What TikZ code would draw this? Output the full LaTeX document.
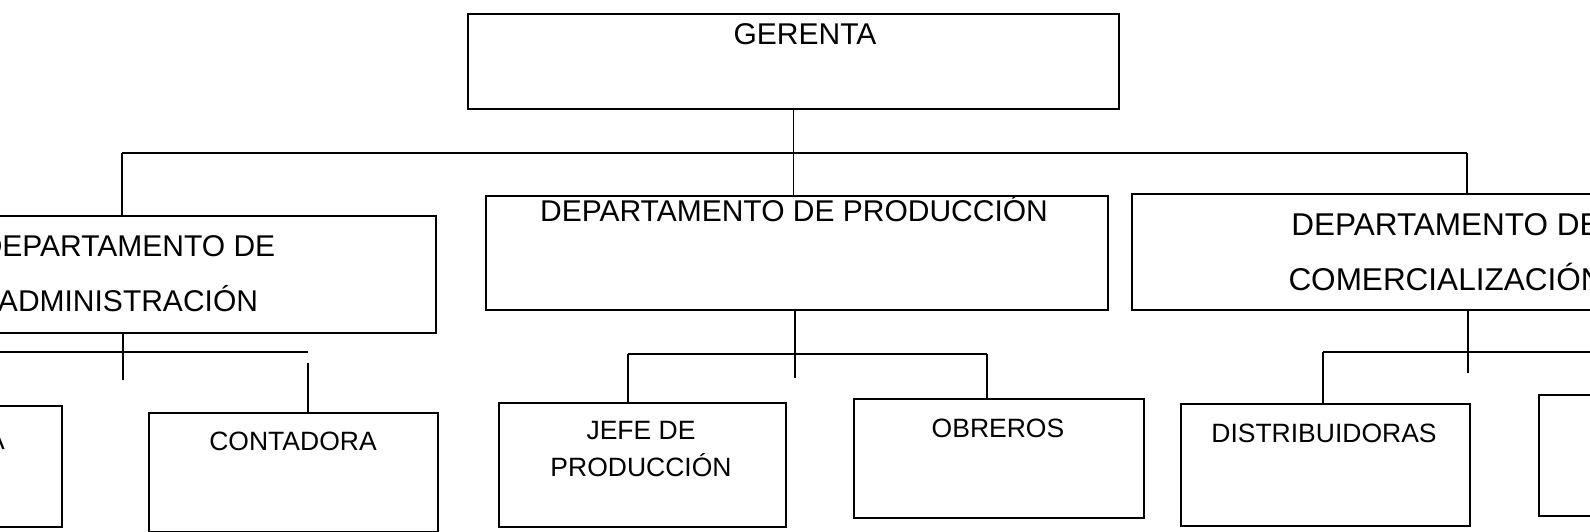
\documentclass[tikz,border=0pt]{standalone}
\usepackage{fontspec}
\setmainfont{Liberation Sans}
\usetikzlibrary{positioning}

\tikzset{
  orgbox/.style={draw, line width=1.9pt, inner sep=0pt, anchor=north west},
  bigtxt/.style={font=\fontsize{31.5}{55}\selectfont, align=center, inner sep=0pt},
  midtxt/.style={font=\fontsize{30}{55}\selectfont, align=center, inner sep=0pt},
  smalltxt/.style={font=\fontsize{26.5}{37}\selectfont, align=center, inner sep=0pt},
  link/.style={line width=1.6pt}
}

\begin{document}
\begin{tikzpicture}[x=1pt, y=-1pt]
\useasboundingbox (0,0) rectangle (1590,532);
\clip (0,0) rectangle (1590,532);

% top level
\node [orgbox, minimum width=651, minimum height=95] (gerenta) at (467,13) {};
\node [midtxt, anchor=base] (gerentatxt) at (805,45) {GERENTA};

% departments
\node [orgbox, minimum width=475, minimum height=117] (admin) at (-40,215) {};
\node [midtxt] (admintxt) at (128,274) {DEPARTAMENTO DE\\ADMINISTRACIÓN};
\node [orgbox, minimum width=622, minimum height=114] (prod) at (485,195) {};
\node [midtxt, anchor=base] (prodtxt) at (794,221) {DEPARTAMENTO DE PRODUCCIÓN};
\node [orgbox, minimum width=609, minimum height=116] (comm) at (1131,193) {};
\node [bigtxt] (commtxt) at (1446,252) {DEPARTAMENTO DE\\COMERCIALIZACIÓN};

% sections
\node [orgbox, minimum width=261, minimum height=121] (secre) at (-200,405) {};
\node [smalltxt, anchor=base east] (secretxt) at (5,449) {SECRETARIA};
\node [orgbox, minimum width=289, minimum height=119] (conta) at (148,412) {};
\node [smalltxt, anchor=base] (contatxt) at (293,450) {CONTADORA};
\node [orgbox, minimum width=287, minimum height=124] (jefe) at (498,402) {};
\node [smalltxt] (jefetxt) at (641,449) {JEFE DE\\PRODUCCIÓN};
\node [orgbox, minimum width=290, minimum height=119] (obreros) at (853,398) {};
\node [smalltxt, anchor=base] (obrerostxt) at (998,437) {OBREROS};
\node [orgbox, minimum width=289, minimum height=122] (distri) at (1180,403) {};
\node [smalltxt, anchor=base] (distritxt) at (1324,442) {DISTRIBUIDORAS};
\node [orgbox, minimum width=260, minimum height=121] (vende) at (1538,394) {};

% main bus
\coordinate (busL) at (122,153);
\coordinate (busR) at (1467,153);
\draw[link] (gerenta.south) -- (gerenta.south |- prod.north);
\draw[link] (busL) -- (busR);
\draw[link] (busL) -- (busL |- admin.north);
\draw[link] (busR) -- (busR |- comm.north);

% administracion
\coordinate (admL) at (-5,352);
\coordinate (admR) at (308,352);
\coordinate (admdrop) at (123,380);
\coordinate (contatop) at (308,363);
\draw[link] (admdrop |- admin.south) -- (admdrop);
\draw[link] (admL) -- (admR);
\draw[link] (contatop) -- (contatop |- conta.north);

% produccion
\coordinate (prodL) at (628,354);
\coordinate (prodR) at (987,354);
\coordinate (proddrop) at (795,378);
\draw[link] (proddrop |- prod.south) -- (proddrop);
\draw[link] (prodL) -- (prodR);
\draw[link] (prodL) -- (prodL |- jefe.north);
\draw[link] (prodR) -- (prodR |- obreros.north);

% comercializacion
\coordinate (commL) at (1323,352);
\coordinate (commR) at (1600,352);
\coordinate (commdrop) at (1468,373);
\draw[link] (commdrop |- comm.south) -- (commdrop);
\draw[link] (commL) -- (commR);
\draw[link] (commL) -- (commL |- distri.north);
\end{tikzpicture}
\end{document}
